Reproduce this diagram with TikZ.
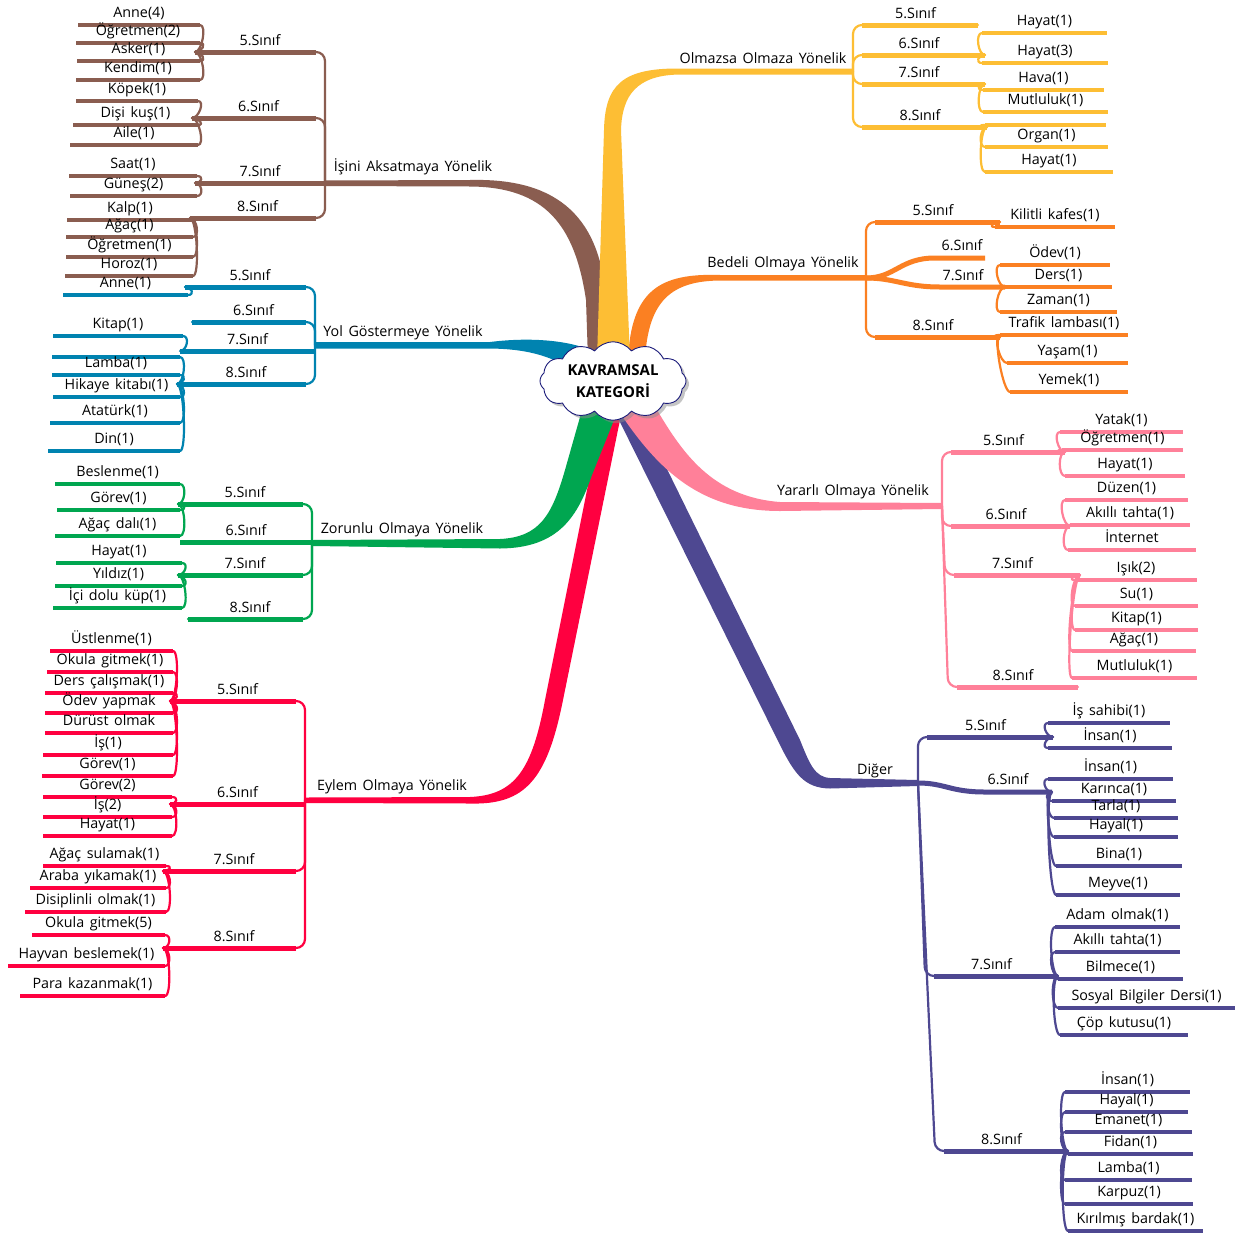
\documentclass[tikz,border=0pt]{standalone}
\usepackage{fontspec}
\setmainfont{Open Sans}[WordSpace=1.5]
\usetikzlibrary{calc,shapes.symbols,shadows}
\definecolor{cbrown}{HTML}{8A5D50}
\definecolor{cyellow}{HTML}{FDBE34}
\definecolor{corange}{HTML}{FB8022}
\definecolor{cblue}{HTML}{0083B0}
\definecolor{cgreen}{HTML}{00A650}
\definecolor{cred}{HTML}{FF0040}
\definecolor{cpink}{HTML}{FF8099}
\definecolor{cpurple}{HTML}{4E4891}
\definecolor{cnavy}{HTML}{1B1B7A}
\tikzset{
  lbl/.style={font=\fontsize{14.3}{16}\selectfont, anchor=base, inner sep=0pt, text=black},
  brk/.style={line width=2.2pt, line cap=round, line join=round},
  snfline/.style={line width=5pt},
  leafline/.style={line width=4.5pt},
}
\newcommand\snf[7]{%
  \coordinate (#1j) at (#4,#5);
  \coordinate (#1e) at (#6,#5);
  \draw[brk,#2,rounded corners=9pt] (#3) -- (#1j) -- (#1e);
  \draw[snfline,#2] ($(#1j)!9pt!(#1e)$) -- (#1e);
  \node[lbl] (#1) at ($(#1j)!0.5!(#1e)+(0,-7)$) {#7};
}
\newcommand\snfs[7]{%
  \coordinate (#1j) at (#4,#5);
  \coordinate (#1e) at (#6,#5);
  \draw[brk,#2] (#3) -- (#1j);
  \draw[snfline,#2] (#1j) -- (#1e);
  \node[lbl] (#1) at ($(#1j)!0.5!(#1e)+(0,-7)$) {#7};
}
\newcommand\leaf[7]{%
  \coordinate (#1s) at (#4,#5);
  \coordinate (#1t) at (#6,#5);
  \draw[brk,#2] (#3) .. controls ($(#3)+(\bul,0)$) and ($(#1s)+(\bul,0)$) .. (#1s);
  \draw[leafline,#2] (#1s) -- (#1t);
  \node[lbl] (#1) at ($(#1s)!0.5!(#1t)+(0,-7.5)$) {#7};
}
\newcommand\leafx[6]{%
  \coordinate (#1s) at (#4,#5);
  \coordinate (#1t) at (#6,#5);
  \draw[brk,#2] (#3) .. controls ($(#3)+(\bul,0)$) and ($(#1s)+(\bul,0)$) .. (#1s);
  \draw[leafline,#2] (#1s) -- (#1t);
}
\begin{document}
\begin{tikzpicture}[x=1pt,y=-1pt]
\fill[white] (0,0) rectangle (1241,1234);
\useasboundingbox (0,0) rectangle (1241,1234);

% ---------- main ribbons ----------
\fill[cbrown] (325,180.5) -- (470,180) .. controls (550,178) and (600,210) .. (606,300) -- (608,360) -- (588,360) -- (586,300) .. controls (575,225) and (545,187) .. (470,186.5) -- (325,186) -- cycle;
\fill[corange] (866,275) -- (720,275) .. controls (660,273) and (631,290) .. (628,360) -- (645,360) .. controls (648,300) and (672,281) .. (720,280.5) -- (866,280.5) -- cycle;
\fill[cyellow] (853,68.5) -- (680,68.5) .. controls (622,68) and (605,85) .. (604,130) -- (597,360) -- (630,360) -- (621,130) .. controls (622,95) and (637,75) .. (680,74.5) -- (853,74.5) -- cycle;
\fill[cblue] (315,342) -- (490,342) .. controls (530,337) and (570,340) .. (595,352) -- (580,375) .. controls (555,357) and (530,349) .. (490,348.5) -- (315,348.5) -- cycle;
\fill[cred] (305,797.5) -- (470,797) .. controls (515,795) and (532,770) .. (545,700) -- (603,410) -- (622,410) -- (563,700) .. controls (547,780) and (525,805) .. (470,803.5) -- (305,803) -- cycle;
\fill[cpurple] (918,780) -- (830,778) .. controls (815,777) and (810,765) .. (800,740) -- (638,410) -- (614,410) -- (780,745) .. controls (795,775) and (805,788) .. (830,788.5) -- (918,786) -- cycle;
\fill[cpink] (942,503) -- (780,502) .. controls (712,497) and (682,452) .. (657,410) -- (618,410) .. controls (658,470) and (700,511) .. (780,511) -- (942,509) -- cycle;
\fill[cgreen] (312,540) -- (500,539) .. controls (540,537) and (552,515) .. (565,470) -- (582,410) -- (618,410) -- (592,475) .. controls (578,515) and (560,548) .. (500,548.5) -- (312,546) -- cycle;

% ---------- branch titles ----------
\node[lbl] (bT) at (413,171) {İşini Aksatmaya Yönelik};
\node[lbl] (yT) at (763,63) {Olmazsa Olmaza Yönelik};
\node[lbl] (oT) at (783,267) {Bedeli Olmaya Yönelik};
\node[lbl] (uT) at (403,336) {Yol Göstermeye Yönelik};
\node[lbl] (gT) at (402,533) {Zorunlu Olmaya Yönelik};
\node[lbl] (rT) at (392,790) {Eylem Olmaya Yönelik};
\node[lbl] (pT) at (853,495) {Yararlı Olmaya Yönelik};
\node[lbl] (vT) at (875,774) {Diğer};

% ---------- brown ----------
\def\bul{7}
\coordinate (bM) at (325,183);
\snf{b5}{cbrown}{bM}{325}{52}{195}{5.Sınıf}
\snf{b6}{cbrown}{bM}{325}{118}{192}{6.Sınıf}
\snfs{b7}{cbrown}{bM}{325}{183}{195}{7.Sınıf}
\snf{b8}{cbrown}{bM}{325}{218}{190}{8.Sınıf}
\leaf{b51}{cbrown}{b5e}{200}{25}{78}{Anne(4)}
\leaf{b52}{cbrown}{b5e}{200}{43}{76}{Öğretmen(2)}
\leaf{b53}{cbrown}{b5e}{200}{61}{77}{Asker(1)}
\leaf{b54}{cbrown}{b5e}{200}{80}{76}{Kendim(1)}
\leaf{b61}{cbrown}{b6e}{198}{101}{76}{Köpek(1)}
\leaf{b62}{cbrown}{b6e}{198}{125}{73}{Dişi kuş(1)}
\leaf{b63}{cbrown}{b6e}{198}{145}{70}{Aile(1)}
\leaf{b71}{cbrown}{b7e}{197}{176}{69}{Saat(1)}
\leaf{b72}{cbrown}{b7e}{197}{196}{70}{Güneş(2)}
\leaf{b81}{cbrown}{b8e}{193}{220}{67}{Kalp(1)}
\leaf{b82}{cbrown}{b8e}{193}{237}{66}{Ağaç(1)}
\leaf{b83}{cbrown}{b8e}{193}{257}{66}{Öğretmen(1)}
\leaf{b84}{cbrown}{b8e}{193}{276}{65}{Horoz(1)}

% ---------- blue ----------
\coordinate (uM) at (315,345);
\snf{u5}{cblue}{uM}{315}{287}{185}{5.Sınıf}
\snf{u6}{cblue}{uM}{315}{322}{192}{6.Sınıf}
\snfs{u7}{cblue}{uM}{315}{351}{180}{7.Sınıf}
\snf{u8}{cblue}{uM}{315}{384}{177}{8.Sınıf}
\leaf{u51}{cblue}{u5e}{188}{295}{63}{Anne(1)}
\leaf{u71}{cblue}{u7e}{183}{336}{53}{Kitap(1)}
\leafx{u80}{cblue}{u8e}{180}{357}{52}
\leaf{u81}{cblue}{u8e}{180}{375}{52}{Lamba(1)}
\leaf{u82}{cblue}{u8e}{180}{397}{53}{Hikaye kitabı(1)}
\leaf{u83}{cblue}{u8e}{180}{423}{50}{Atatürk(1)}
\leaf{u84}{cblue}{u8e}{180}{451}{48}{Din(1)}

% ---------- green ----------
\coordinate (gM) at (312,543);
\snf{g5}{cgreen}{gM}{312}{504}{178}{5.Sınıf}
\snfs{g6}{cgreen}{gM}{312}{542}{180}{6.Sınıf}
\snf{g7}{cgreen}{gM}{312}{575}{178}{7.Sınıf}
\snf{g8}{cgreen}{gM}{312}{619}{188}{8.Sınıf}
\leaf{g51}{cgreen}{g5e}{180}{484}{55}{Beslenme(1)}
\leaf{g52}{cgreen}{g5e}{180}{510}{57}{Görev(1)}
\leaf{g53}{cgreen}{g5e}{180}{536}{55}{Ağaç dalı(1)}
\leaf{g71}{cgreen}{g7e}{182}{563}{56}{Hayat(1)}
\leaf{g72}{cgreen}{g7e}{182}{586}{55}{Yıldız(1)}
\leaf{g73}{cgreen}{g7e}{182}{608}{53}{İçi dolu küp(1)}

% ---------- red ----------
\coordinate (rM) at (305,800);
\snf{r5}{cred}{rM}{305}{701}{170}{5.Sınıf}
\snfs{r6}{cred}{rM}{305}{804}{170}{6.Sınıf}
\snf{r7}{cred}{rM}{305}{871}{163}{7.Sınıf}
\snf{r8}{cred}{rM}{305}{948}{163}{8.Sınıf}
\leaf{r51}{cred}{r5e}{173}{651}{50}{Üstlenme(1)}
\leaf{r52}{cred}{r5e}{173}{672}{47}{Okula gitmek(1)}
\leaf{r53}{cred}{r5e}{173}{693}{45}{Ders çalışmak(1)}
\leaf{r54}{cred}{r5e}{173}{713}{45}{Ödev yapmak}
\leaf{r55}{cred}{r5e}{173}{733}{45}{Dürüst olmak}
\leaf{r56}{cred}{r5e}{173}{755}{43}{İş(1)}
\leaf{r57}{cred}{r5e}{173}{776}{42}{Görev(1)}
\leaf{r61}{cred}{r6e}{172}{797}{43}{Görev(2)}
\leaf{r62}{cred}{r6e}{172}{817}{43}{İş(2)}
\leaf{r63}{cred}{r6e}{172}{836}{43}{Hayat(1)}
\leaf{r71}{cred}{r7e}{166}{866}{43}{Ağaç sulamak(1)}
\leaf{r72}{cred}{r7e}{166}{888}{30}{Araba yıkamak(1)}
\leaf{r73}{cred}{r7e}{166}{912}{25}{Disiplinli olmak(1)}
\leaf{r81}{cred}{r8e}{165}{935}{32}{Okula gitmek(5)}
\leaf{r82}{cred}{r8e}{165}{966}{8}{Hayvan beslemek(1)}
\leaf{r83}{cred}{r8e}{165}{996}{20}{Para kazanmak(1)}

% ---------- yellow ----------
\def\bul{-7}
\coordinate (yM) at (853,71.5);
\snf{y5}{cyellow}{yM}{853}{25}{978}{5.Sınıf}
\snf{y6}{cyellow}{yM}{853}{55}{985}{6.Sınıf}
\snf{y7}{cyellow}{yM}{853}{84}{985}{7.Sınıf}
\snf{y8}{cyellow}{yM}{853}{127}{987}{8.Sınıf}
\leaf{y61}{cyellow}{y6e}{982}{33}{1107}{Hayat(1)}
\leaf{y62}{cyellow}{y6e}{982}{63}{1108}{Hayat(3)}
\leaf{y71}{cyellow}{y7e}{983}{90}{1104}{Hava(1)}
\leaf{y72}{cyellow}{y7e}{983}{112}{1108}{Mutluluk(1)}
\leafx{y80}{cyellow}{y8e}{985}{125}{1106}
\leaf{y81}{cyellow}{y8e}{985}{147}{1108}{Organ(1)}
\leaf{y82}{cyellow}{y8e}{985}{172}{1113}{Hayat(1)}

% ---------- orange ----------
\coordinate (oM) at (866,278);
\snf{o5}{corange}{oM}{866}{222}{1000}{5.Sınıf}
\snf{o8}{corange}{oM}{866}{337}{1000}{8.Sınıf}
\coordinate (o6e) at (985,258);
\coordinate (o7e) at (1005,287);
\draw[snfline,corange] (oM) .. controls (895,278) and (900,258) .. (935,258) -- (o6e);
\draw[snfline,corange] (oM) .. controls (895,278) and (905,287) .. (940,287) -- (o7e);
\node[lbl] (o6) at (962,250) {6.Sınıf};
\node[lbl] (o7) at (963,280) {7.Sınıf};
\leaf{o51}{corange}{o5e}{995}{227}{1115}{Kilitli kafes(1)}
\leaf{o71}{corange}{o7e}{1000}{265}{1110}{Ödev(1)}
\leaf{o72}{corange}{o7e}{1005}{287}{1112}{Ders(1)}
\leaf{o73}{corange}{o7e}{1000}{312}{1117}{Zaman(1)}
\leaf{o81}{corange}{o8e}{1000}{335}{1128}{Trafik lambası(1)}
\leaf{o82}{corange}{o8e}{1007}{363}{1128}{Yaşam(1)}
\leaf{o83}{corange}{o8e}{1010}{392}{1128}{Yemek(1)}

% ---------- pink ----------
\coordinate (pM) at (942,506);
\snf{p5}{cpink}{pM}{942}{452}{1065}{5.Sınıf}
\snf{p6}{cpink}{pM}{942}{526}{1070}{6.Sınıf}
\snf{p7}{cpink}{pM}{945}{575}{1080}{7.Sınıf}
\snf{p8}{cpink}{pM}{948}{687}{1078}{8.Sınıf}
\leaf{p51}{cpink}{p5e}{1060}{432}{1183}{Yatak(1)}
\leaf{p52}{cpink}{p5e}{1062}{450}{1183}{Öğretmen(1)}
\leaf{p53}{cpink}{p5e}{1065}{476}{1185}{Hayat(1)}
\leaf{p61}{cpink}{p6e}{1065}{500}{1188}{Düzen(1)}
\leaf{p62}{cpink}{p6e}{1070}{525}{1190}{Akıllı tahta(1)}
\leaf{p63}{cpink}{p6e}{1068}{550}{1196}{İnternet}
\leaf{p71}{cpink}{p7e}{1075}{580}{1197}{Işık(2)}
\leaf{p72}{cpink}{p7e}{1075}{606}{1198}{Su(1)}
\leaf{p73}{cpink}{p7e}{1075}{630}{1198}{Kitap(1)}
\leaf{p74}{cpink}{p7e}{1072}{651}{1196}{Ağaç(1)}
\leaf{p75}{cpink}{p7e}{1072}{678}{1197}{Mutluluk(1)}

% ---------- purple ----------
\coordinate (vM) at (918,783);
\snf{v5}{cpurple}{vM}{918}{737}{1053}{5.Sınıf}
\coordinate (v6e) at (1052,792);
\draw[snfline,cpurple] (vM) .. controls (945,783) and (950,792) .. (985,792) -- (v6e);
\node[lbl] (v6) at (1008,784) {6.Sınıf};
\snf{v7}{cpurple}{vM}{925}{976}{1058}{7.Sınıf}
\snf{v8}{cpurple}{vM}{935}{1151}{1068}{8.Sınıf}
\leaf{v51}{cpurple}{v5e}{1048}{723}{1170}{İş sahibi(1)}
\leaf{v52}{cpurple}{v5e}{1048}{748}{1172}{İnsan(1)}
\leaf{v61}{cpurple}{v6e}{1048}{779}{1173}{İnsan(1)}
\leaf{v62}{cpurple}{v6e}{1052}{801}{1176}{Karınca(1)}
\leaf{v63}{cpurple}{v6e}{1054}{818}{1178}{Tarla(1)}
\leaf{v64}{cpurple}{v6e}{1054}{837}{1178}{Hayal(1)}
\leaf{v65}{cpurple}{v6e}{1056}{866}{1182}{Bina(1)}
\leaf{v66}{cpurple}{v6e}{1056}{895}{1180}{Meyve(1)}
\leaf{v71}{cpurple}{v7e}{1055}{927}{1180}{Adam olmak(1)}
\leaf{v72}{cpurple}{v7e}{1055}{952}{1180}{Akıllı tahta(1)}
\leaf{v73}{cpurple}{v7e}{1058}{979}{1183}{Bilmece(1)}
\leaf{v74}{cpurple}{v7e}{1058}{1008}{1235}{Sosyal Bilgiler Dersi(1)}
\leaf{v75}{cpurple}{v7e}{1060}{1035}{1188}{Çöp kutusu(1)}
\leaf{v81}{cpurple}{v8e}{1065}{1092}{1190}{İnsan(1)}
\leaf{v82}{cpurple}{v8e}{1065}{1112}{1188}{Hayal(1)}
\leaf{v83}{cpurple}{v8e}{1065}{1132}{1192}{Emanet(1)}
\leaf{v84}{cpurple}{v8e}{1068}{1154}{1193}{Fidan(1)}
\leaf{v85}{cpurple}{v8e}{1065}{1180}{1192}{Lamba(1)}
\leaf{v86}{cpurple}{v8e}{1065}{1204}{1193}{Karpuz(1)}
\leaf{v87}{cpurple}{v8e}{1068}{1231}{1203}{Kırılmış bardak(1)}

% ---------- centre cloud ----------
\node[cloud, draw=cnavy, fill=white, line width=0.9pt, cloud puffs=12, cloud puff arc=105,
  aspect=2, minimum width=146pt, minimum height=74pt, inner sep=0pt,
  drop shadow={fill=black!45, shadow xshift=3pt, shadow yshift=-3pt},
  align=center, font=\fontsize{15}{22}\selectfont\bfseries] (root) at (613,381) {KAVRAMSAL\\KATEGORİ};
\end{tikzpicture}
\end{document}
